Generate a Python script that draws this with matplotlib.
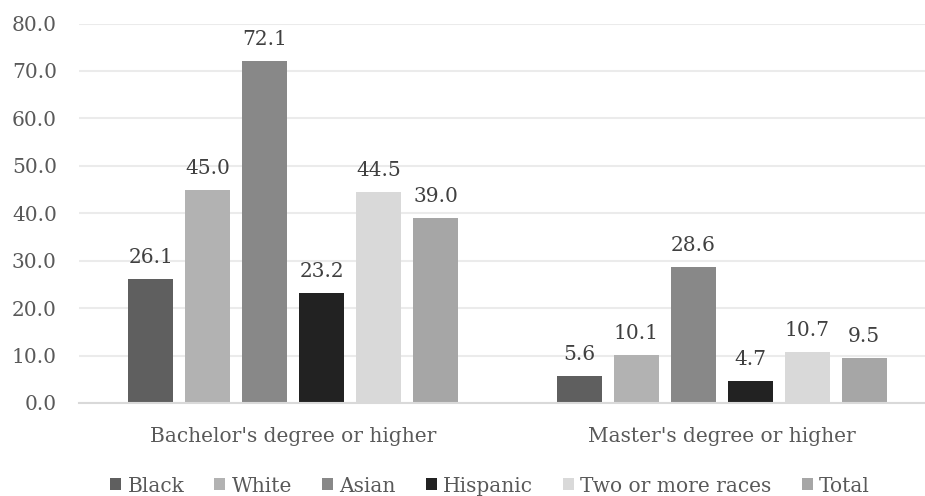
import matplotlib
matplotlib.use("Agg")
import matplotlib.pyplot as plt
import numpy as np

categories = ["Bachelor's degree or higher", "Master's degree or higher"]
series = ["Black", "White", "Asian", "Hispanic", "Two or more races", "Total"]
values = {
    "Black": [26.1, 5.6],
    "White": [45.0, 10.1],
    "Asian": [72.1, 28.6],
    "Hispanic": [23.2, 4.7],
    "Two or more races": [44.5, 10.7],
    "Total": [39.0, 9.5],
}
colors = ["#5f5f5f", "#b2b2b2", "#888888", "#222222", "#d9d9d9", "#a6a6a6"]
yticks = [0, 10, 20, 30, 40, 50, 60, 70, 80]

plt.rcParams["font.family"] = ["DejaVu Serif"]
fs = 14.5

fig = plt.figure(figsize=(9.25, 4.96), dpi=100)
ax = fig.add_axes([79 / 925, 93 / 496, 857 / 925, 379.5 / 496])

x = np.arange(len(categories))
pitch = 0.133
width = 0.105
for i, (name, col) in enumerate(zip(series, colors)):
    pos = x + (i - 2.5) * pitch
    bars = ax.bar(pos, values[name], width=width, color=col, label=name, zorder=3)
    for b, v in zip(bars, values[name]):
        ax.annotate(f"{v:.1f}", (b.get_x() + b.get_width() / 2, v),
                    xytext=(0, 11.5), textcoords="offset points",
                    ha="center", va="baseline", fontsize=fs, color="#404040")

ax.set_xlim(-0.5, 1.5)
ax.set_ylim(0, 80)
ax.set_yticks(yticks)
ax.set_yticklabels([f"{t:.1f}" for t in yticks], fontsize=fs, color="#595959")
ax.set_xticks(x)
ax.set_xticklabels(categories, fontsize=fs, color="#595959")
ax.tick_params(axis="both", length=0)
ax.tick_params(axis="x", pad=17)
ax.tick_params(axis="y", pad=16)
ax.yaxis.grid(True, color="#ebebeb", linewidth=1.5, zorder=0)
for s in ["left", "right", "top"]:
    ax.spines[s].set_visible(False)
ax.spines["bottom"].set_color("#d9d9d9")
ax.spines["bottom"].set_linewidth(1.5)
ax.spines["bottom"].set_zorder(4)

fig.legend(loc="center", bbox_to_anchor=(490 / 925, 1 - 486 / 496), ncol=6,
           frameon=False, fontsize=fs, handlelength=0.55, handleheight=0.55,
           handletextpad=0.3, columnspacing=1.5, labelcolor="#595959")

fig.savefig("out.png", dpi=100)
